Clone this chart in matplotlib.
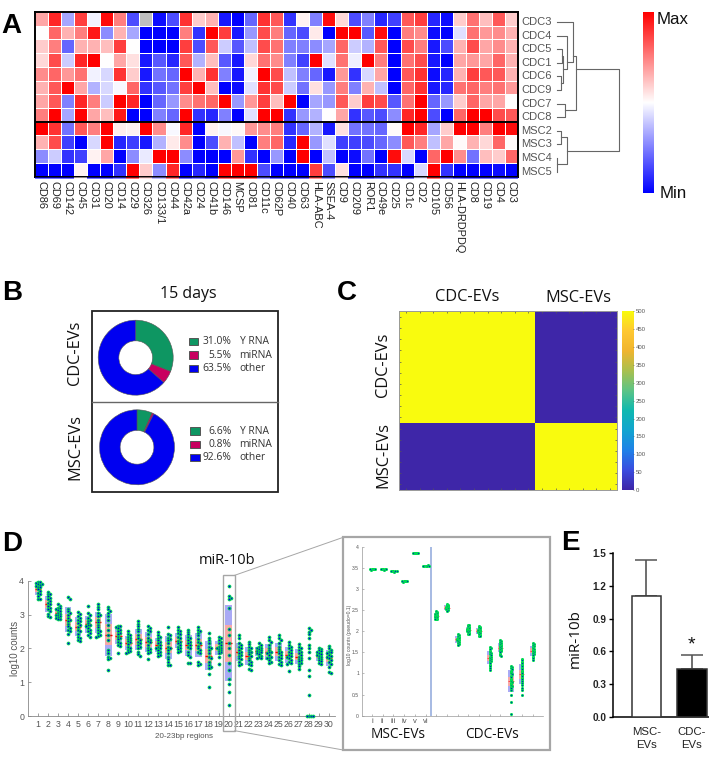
import numpy as np
import matplotlib
matplotlib.use("Agg")
import matplotlib.pyplot as plt
from matplotlib.colors import LinearSegmentedColormap
from matplotlib.patches import Rectangle

W, H = 709, 766
ARIAL = ["Liberation Sans", "DejaVu Sans"]
OPEN = ["Open Sans", "DejaVu Sans"]

# ---------- Panel A data ----------
markers = ["CD86","CD69","CD142","CD45","CD31","CD20","CD14","CD29","CD326","CD133/1","CD44","CD42a","CD24",
           "CD41b","CD146","MCSP","CD81","CD11c","CD62P","CD40","CD63","HLA-ABC","SSEA-4","CD9","CD209","ROR1",
           "CD49e","CD25","CD1c","CD2","CD105","CD56","HLA-DRDPDQ","CD8","CD19","CD4","CD3"]
samples = ["CDC3","CDC4","CDC5","CDC1","CDC6","CDC9","CDC7","CDC8","MSC2","MSC3","MSC4","MSC5"]
nan = float("nan")
heat = [
 [.35,.85,-.35,.75,-.05,.95,.5,-.7,nan,-.95,-.7,.8,.2,.3,-.9,-1,-.6,.8,.65,-.8,.05,-.5,.95,.15,-.7,-.5,-.85,-.75,.65,.75,-.85,-.95,.2,.55,.25,.65,.2],
 [0,.6,.3,.5,.9,-.45,.3,-.35,-1,-1,-1,.5,-.8,1,.75,-.9,-.4,.7,.5,-.6,-.7,.08,-1,1,1,-.65,.95,-1,.5,.45,-.95,-1,-.12,.55,.4,.45,.3],
 [.2,.5,-.6,.3,.3,.25,.75,0,-1,-1,-1,.75,-.7,.65,-.2,-.65,-.25,.7,.55,-.5,-.5,-.45,-.35,.6,-.2,-.3,.65,-1,.7,.5,-.9,-.7,.3,.7,.35,.45,.3],
 [.15,.7,-.2,.85,1,0,.35,.12,-.9,-.65,-.85,.65,-.3,.25,-.65,-.9,.15,.55,.45,-.5,-.75,1,-.12,.55,-.07,1,.5,-1,.55,.7,-.9,-1,.35,.4,.35,.6,.3],
 [.45,.6,.4,.55,-.05,-.15,.8,.2,-.9,-.55,-.6,1,.3,.8,-.5,-.9,-.05,1,.7,-.25,-.5,-.6,-.9,.4,-.8,-.15,.35,-1,.65,.8,-.95,-.85,.3,.75,.65,.65,.3],
 [.3,.65,1,.35,-.3,-.15,-.03,.6,-.8,-.65,-.55,.75,1,.25,-1,-.95,-.12,.8,.7,-.2,-.55,.12,-.4,.5,-.5,.3,-.25,-1,.6,.8,-.9,-.85,.55,.6,.5,.55,.4],
 [.35,.65,-.5,.85,.5,-.2,1,.85,-1,-.6,-.4,.45,.55,.6,1,-.4,.4,.75,.25,1,-1,-.35,-.4,.65,.2,.75,.7,-.65,.55,1,-.6,-.4,.2,.6,.35,.35,0],
 [.5,1,-.35,1,.35,.25,.9,-1,-1,-.5,-.6,1,-.8,-.85,-.5,-1,-.12,1,1,-.8,-.4,-.3,0,.35,-.8,-.65,-.7,-.45,.85,1,-.7,-1,.6,1,1,.7,.65],
 [1,.8,-.55,.65,.5,1,.07,.05,1,.45,-.03,.85,-1,.05,-.03,.03,.4,.45,.5,-.8,-.6,-.3,-.9,.12,-.55,-.55,-.6,.02,1,.85,-.35,.2,1,1,.5,1,.95],
 [.3,.7,-.75,-1,-.15,1,-.85,-.75,-.9,-.3,.08,.45,-1,-.7,.3,-.25,-1,.5,.6,-.85,1,-.4,-.12,-.75,-.75,-.7,-.6,-.45,.65,.5,-.25,.35,.02,.3,.15,.6,.02],
 [-.45,-.2,-.8,-.75,.05,.35,-1,-.45,-.08,1,1,-.45,-1,-1,-1,.4,-.8,-1,-.4,-1,1,-1,-.25,-1,-.95,-.55,-1,.95,-.15,-1,.6,1,.45,-.55,.25,.2,.6],
 [-1,-1,-1,.05,-1,-1,-.8,1,.2,-.45,.85,-1,-.85,-1,1,1,1,-.7,-1,-1,-1,.75,-.7,.12,-1,-1,-.8,-.8,-1,-.15,1,-.8,-1,-1,-1,-.95,-1],
]
# dendrogram merges: node a, node b, height, row position of the stem.
merges = [(2,3,.08,2.5),(4,5,.07,4.5),(12,13,.096,3.47),(1,14,.17,2.96),(0,15,.255,2.5),(6,7,.133,6.5),(16,17,.31,3.47),
          (8,9,.07,8.47),(10,11,.01,10.45),(19,20,.16,9.5),(18,21,1.0,6.0)]

# ---------- Panel B data ----------
rna_types = ["Y RNA", "miRNA", "other"]
cdc_rna = [31.0, 5.5, 63.5]
msc_rna = [6.6, 0.8, 92.6]
rna_colors = ["#0E9662", "#C8005F", "#0000F0"]

# ---------- Panel C data ----------
groups = [0]*10 + [1]*6
consensus = [[500 if a == b else 0 for b in groups] for a in groups]
parula = ["#3E26A8","#3A4DE0","#1F82E8","#12A5D0","#10B9B0","#5CC486","#A9C04F","#F0B52F","#FFC832","#F9FB0E"]
cbar_ticks = [0,50,100,150,200,250,300,350,400,450,500]

# ---------- Panel D data ----------
regions = {
 1:[3.97,3.95,3.93,3.9,3.9,3.88,3.85,3.82,3.8,3.75,3.7,3.65,3.6,3.55,3.47,3.45],
 2:[3.68,3.62,3.6,3.55,3.5,3.45,3.4,3.35,3.3,3.25,3.2,3.15,3.1,3.02,2.95,2.93],
 3:[3.3,3.25,3.2,3.18,3.15,3.12,3.1,3.05,3.02,3.0,2.98,2.95,2.92,2.9,2.88,2.86],
 4:[3.52,3.47,3.17,3.1,3.05,3.0,2.9,2.85,2.8,2.72,2.65,2.6,2.55,2.5,2.42,2.15],
 5:[3.07,3.02,2.95,2.9,2.85,2.82,2.75,2.7,2.62,2.55,2.5,2.42,2.35,2.3,2.25,2.22],
 6:[3.25,3.05,3.0,2.9,2.85,2.82,2.75,2.7,2.68,2.65,2.6,2.55,2.5,2.45,2.4,2.35],
 7:[3.3,3.22,3.15,3.05,3.0,2.95,2.85,2.78,2.7,2.62,2.55,2.5,2.45,2.4,2.37,2.35],
 8:[3.22,3.15,3.1,3.05,2.95,2.85,2.7,2.55,2.4,2.25,1.95,1.85,1.75,1.72,1.68,1.35],
 9:[2.67,2.65,2.62,2.6,2.55,2.5,2.45,2.42,2.35,2.3,2.28,2.2,2.15,2.1,2.08,1.85],
 10:[2.5,2.42,2.38,2.35,2.32,2.28,2.25,2.22,2.18,2.12,2.05,2.0,1.95,1.92,1.88,1.87],
 11:[2.8,2.72,2.65,2.58,2.5,2.4,2.3,2.25,2.2,2.15,2.1,2.05,2.0,1.9,1.82,1.78],
 12:[2.65,2.6,2.55,2.5,2.42,2.3,2.25,2.22,2.18,2.1,2.02,1.98,1.95,1.9,1.85,1.68],
 13:[2.47,2.4,2.35,2.32,2.25,2.2,2.15,2.1,2.05,2.02,2.0,1.95,1.9,1.85,1.8,1.78],
 14:[2.62,2.42,2.38,2.32,2.28,2.25,2.15,2.05,2.0,1.95,1.85,1.75,1.68,1.6,1.52,1.5],
 15:[2.63,2.55,2.5,2.45,2.42,2.35,2.3,2.22,2.18,2.15,2.1,2.05,2.0,1.98,1.93,1.9],
 16:[2.55,2.48,2.42,2.35,2.3,2.25,2.2,2.15,2.1,2.05,2.0,1.9,1.8,1.75,1.58,1.56],
 17:[2.62,2.55,2.5,2.45,2.38,2.28,2.2,2.15,2.08,2.0,1.95,1.88,1.85,1.6,1.55,1.52],
 18:[2.45,2.32,2.25,2.15,2.05,2.0,1.95,1.85,1.75,1.7,1.6,1.5,1.45,1.42,1.25,.85],
 19:[2.35,2.3,2.25,2.2,2.15,2.1,2.05,2.02,2.0,1.98,1.95,1.92,1.88,1.85,1.75,1.55],
 20:[3.85,3.55,3.5,3.45,3.2,2.58,2.4,2.15,2.0,1.8,1.58,1.35,1.1,.95,.7,.32],
 21:[2.4,2.3,2.15,2.1,2.05,2.0,1.95,1.9,1.85,1.8,1.78,1.72,1.68,1.6,1.55,1.5],
 22:[2.2,2.12,2.05,2.0,1.95,1.9,1.88,1.82,1.78,1.72,1.65,1.6,1.55,1.5,1.38,1.35],
 23:[2.15,2.1,2.05,2.02,2.0,1.97,1.95,1.92,1.9,1.88,1.85,1.82,1.78,1.75,1.72,1.7],
 24:[2.33,2.25,2.2,2.1,2.02,1.95,1.9,1.88,1.85,1.8,1.75,1.72,1.7,1.65,1.6,1.58],
 25:[2.38,2.3,2.25,2.15,2.05,1.98,1.92,1.88,1.85,1.8,1.75,1.7,1.65,1.6,1.55,1.52],
 26:[2.18,2.1,2.05,2.0,1.95,1.9,1.85,1.8,1.78,1.75,1.7,1.65,1.6,1.58,1.55,1.32],
 27:[2.12,2.05,2.0,1.95,1.9,1.85,1.8,1.75,1.72,1.68,1.65,1.62,1.58,1.55,1.48,1.38],
 28:[2.6,2.55,2.48,2.42,2.3,2.1,2.0,1.88,1.72,1.35,1.18,.62,0,0,0,0],
 29:[2.02,1.98,1.95,1.92,1.9,1.85,1.82,1.8,1.78,1.75,1.72,1.68,1.65,1.62,1.58,1.55],
 30:[2.07,2.0,1.95,1.9,1.88,1.85,1.8,1.78,1.75,1.7,1.65,1.6,1.55,1.45,1.3,1.28],
}
no_box_regions = [28]

# ---------- Panel D inset data ----------
inset_labels = ["i","ii","iii","iv","v","vi"] + [""]*10
inset = [
 [3.47,3.47,3.46,3.48,3.47,3.47],
 [3.47,3.46,3.47,3.48,3.47,3.47],
 [3.42,3.41,3.42,3.43,3.42,3.42],
 [3.18,3.18,3.17,3.19,3.18,3.18],
 [3.85,3.85,3.84,3.86,3.85,3.85],
 [3.55,3.55,3.54,3.56,3.55,3.55],
 [2.47,2.45,2.44,2.42,2.41,2.4,2.39,2.38,2.37,2.36,2.35,2.34,2.33,2.32,2.3,2.29,2.28],
 [2.65,2.63,2.62,2.6,2.59,2.58,2.57,2.56,2.55,2.54,2.53,2.52,2.5,2.49,2.47],
 [1.93,1.91,1.89,1.87,1.85,1.83,1.82,1.81,1.8,1.79,1.78,1.76,1.74,1.72,1.7,1.68],
 [2.15,2.14,2.12,2.1,2.08,2.07,2.06,2.05,2.04,2.03,2.02,2.01,2.0,1.98,1.96,1.94,1.93],
 [2.13,2.11,2.1,2.08,2.06,2.04,2.03,2.02,2.01,2.0,1.99,1.97,1.95,1.93,1.91,1.89,1.88],
 [1.62,1.6,1.57,1.54,1.5,1.48,1.45,1.43,1.4,1.38,1.36,1.34,1.32,1.3,1.27,1.24,1.2,1.17,1.14,1.08],
 [1.78,1.76,1.74,1.72,1.7,1.68,1.66,1.64,1.62,1.6,1.58,1.56,1.54,1.52,1.5,1.47,1.44,1.42],
 [1.17,1.15,1.12,1.1,1.06,1.03,1.0,.98,.95,.92,.88,.85,.82,.8,.78,.75,.72,.7,.68,.65,.62,.5,.33,.05],
 [1.35,1.32,1.28,1.25,1.2,1.17,1.13,1.1,1.06,1.03,1.0,.97,.94,.9,.86,.83,.78,.72,.65,.6,.5],
 [1.72,1.7,1.67,1.65,1.63,1.6,1.58,1.56,1.54,1.52,1.5,1.48,1.46,1.43,1.4,1.37,1.33],
]

# ---------- Panel E data ----------
e_labels = ["MSC-\nEVs", "CDC-\nEVs"]
e_means = [1.105, 0.435]
e_errs = [0.335, 0.135]
e_colors = ["white", "black"]
e_ticks = [0.0, 0.3, 0.6, 0.9, 1.2, 1.5]


fig = plt.figure(figsize=(W/100, H/100), dpi=100, facecolor="white")

def px_axes(x0, y0, x1, y1, **kw):
    return fig.add_axes([x0/W, 1-y1/H, (x1-x0)/W, (y1-y0)/H], **kw)

over = px_axes(0, 0, W, H)
over.set_xlim(0, W); over.set_ylim(H, 0); over.axis("off"); over.set_zorder(10); over.patch.set_alpha(0)

def swarm(vals, ppu_x, ppu_y, dia):
    placed = []
    xs = []
    for v in vals:
        k = 0
        while True:
            step = (k+1)//2 * (1 if k % 2 else -1) * dia*0.5
            if all((step-px)**2 + ((v-pv)*ppu_y)**2 >= dia**2 for px, pv in placed):
                break
            k += 1
        placed.append((step, v))
        xs.append(step/ppu_x)
    return np.array(xs)

# ---------- A ----------
ax = px_axes(35, 12, 518, 176.5)
cm = LinearSegmentedColormap.from_list("bwr2", ["#0000FF", "#FFFFFF", "#FF0000"])
cm.set_bad("#BFBFBF")
ax.pcolormesh(np.ma.masked_invalid(np.array(heat)), cmap=cm, vmin=-1, vmax=1, edgecolors="white", linewidth=0.7)
ax.set_ylim(12, 0); ax.set_xlim(0, len(markers))
ax.set_xticks(np.arange(len(markers))+.5)
ax.set_xticklabels(markers, rotation=-90, fontsize=7.9, family=ARIAL, color="#222222", ha="center", va="top")
ax.tick_params(axis="x", length=0, pad=3.5)
ax.set_yticks([])
for s in ax.spines.values():
    s.set_linewidth(1.4); s.set_color("black")
ax.axhline(8, color="black", lw=1.4)
st = px_axes(35, 177.2, 518, 179.3)
st.pcolormesh(np.array(heat)[-1:], cmap=cm, vmin=-1, vmax=1, alpha=.55)
st.axis("off")

den = px_axes(556.7, 22, 619.3, 171.7)
den.set_xlim(0, 1); den.set_ylim(11, 0); den.axis("off")
pos = {i: (i, 0.0) for i in range(12)}
dcol = "#666666"
for n, (a, b, h, stem) in enumerate(merges):
    ya, ha = pos[a]; yb, hb = pos[b]
    den.plot([ha, h, h, hb], [ya, ya, yb, yb], color=dcol, lw=0.8, clip_on=False)
    pos[12+n] = (stem, h)
for i, s in enumerate(samples):
    over.text(521, 22+i*(171.7-22)/11, s, fontsize=8, family=ARIAL, color="#555555", va="center", ha="left")

cb = px_axes(642.7, 12, 653.3, 193)
cb.imshow(np.linspace(1, -1, 256)[:, None], cmap=cm, aspect="auto", vmin=-1, vmax=1)
cb.set_xticks([]); cb.set_yticks([])
for s in cb.spines.values():
    s.set_visible(False)
over.text(657, 20, "Max", fontsize=12.2, family=ARIAL, va="center", color="#111111")
over.text(660, 193, "Min", fontsize=12.2, family=ARIAL, va="center", color="#111111")

# ---------- B ----------
over.add_patch(Rectangle((92, 311), 186, 180.7, fc="none", ec="#222222", lw=1.3))
over.plot([92, 278], [401.7, 401.7], color="#666666", lw=1)
over.text(188, 294, "15 days", fontsize=11.5, family=OPEN, ha="center", va="center", color="#111111")

def donut(cx, cy, vals, lx, ly):
    a = px_axes(cx-37.5, cy-37.5, cx+37.5, cy+37.5)
    a.pie(vals, colors=rna_colors, startangle=90, counterclock=False, radius=1,
          wedgeprops=dict(width=0.55, edgecolor="#555555", linewidth=0.4))
    a.set_xlim(-1, 1); a.set_ylim(-1, 1)
    for i, (v, n) in enumerate(zip(vals, rna_types)):
        y = ly + i*13.4
        over.add_patch(Rectangle((lx, y-3.6), 9.5, 7.2, fc=rna_colors[i], ec="#555555", lw=0.7))
        over.text(231.5, y, f"{v:.1f}%", fontsize=7.4, family=OPEN, ha="right", va="center", color="#333333")
        over.text(239.5, y, n, fontsize=7.4, family=OPEN, ha="left", va="center", color="#333333")

donut(135.7, 357.7, cdc_rna, 188.5, 341.7)
donut(137, 447.3, msc_rna, 190.2, 431)
over.text(75, 353, "CDC-EVs", fontsize=11.8, family=OPEN, rotation=90, ha="center", va="center", color="#111111")
over.text(75, 446.7, "MSC-EVs", fontsize=11.8, family=OPEN, rotation=90, ha="center", va="center", color="#111111")

# ---------- C ----------
pc = LinearSegmentedColormap.from_list("par", parula)
ax = px_axes(399.3, 311.3, 616.7, 490)
ax.imshow(np.array(consensus), cmap=pc, vmin=0, vmax=500, aspect="auto", interpolation="nearest")
ax.set_xticks(range(16)); ax.set_yticks(range(16))
ax.set_xticklabels([]); ax.set_yticklabels([])
ax.tick_params(which="both", direction="in", length=1.5, width=0.5, color="#555555", top=True, right=True)
for s in ax.spines.values():
    s.set_color("#999999"); s.set_linewidth(0.7)
cb = px_axes(622.3, 311.3, 634, 490)
cb.imshow(np.linspace(500, 0, 256)[:, None], cmap=pc, vmin=0, vmax=500, aspect="auto", extent=[0, 1, 0, 500])
cb.set_xticks([]); cb.yaxis.tick_right(); cb.set_yticks(cbar_ticks)
cb.set_yticklabels([str(t) for t in cbar_ticks], fontsize=4.3, family=ARIAL, color="#555555")
cb.tick_params(axis="y", length=1, width=0.4, pad=1, color="#555555", direction="in")
for s in cb.spines.values():
    s.set_visible(False)
over.text(467, 297, "CDC-EVs", fontsize=11.8, family=OPEN, ha="center", va="center", color="#111111")
over.text(578, 298, "MSC-EVs", fontsize=11.8, family=OPEN, ha="center", va="center", color="#111111")
over.text(383, 365, "CDC-EVs", fontsize=11.8, family=OPEN, rotation=90, ha="center", va="center", color="#111111")
over.text(383, 455, "MSC-EVs", fontsize=11.8, family=OPEN, rotation=90, ha="center", va="center", color="#111111")

# ---------- D ----------
def notbox(a, x, vals, w, ppu_x, ppu_y, dia, ms, lw, edge, box=True):
    vals = np.array(vals, float)
    if box:
        m, sd = vals.mean(), vals.std(ddof=1)
        ci = 1.96*sd/np.sqrt(len(vals))
        a.add_patch(Rectangle((x-w/2, m-sd), w, 2*sd, fc="#A9A9F5", ec="none", zorder=1))
        a.add_patch(Rectangle((x-w/2, m-ci), w, 2*ci, fc="#F7A8A8", ec="none", zorder=2))
        a.plot([x-w/2, x+w/2], [m, m], color="#FF0000", lw=lw, zorder=3, solid_capstyle="butt")
    a.scatter(x+swarm(vals, ppu_x, ppu_y, dia), vals, s=ms, fc="#0000DD", ec="#00E050", lw=edge, zorder=4, clip_on=False)

ppx = 10.03; ppy = 33.83
ax = px_axes(28.3, 580.7, 335, 716)
ax.set_xlim(1+(28.3-38)/ppx, 1+(335-38)/ppx); ax.set_ylim(0, 4)
for r, vals in regions.items():
    notbox(ax, r, vals, 0.66, ppx, ppy, 2.0, 4.2, 1.0, 0.65, box=r not in no_box_regions)
ax.set_xticks(list(regions)); ax.set_yticks([0, 1, 2, 3, 4])
ax.tick_params(axis="both", direction="in", length=2.5, width=0.5, color="#777777", labelcolor="#555555", labelsize=6.3, pad=3)
for t in ax.get_xticklabels()+ax.get_yticklabels():
    t.set_family(ARIAL)
ax.spines[["top", "right"]].set_visible(False)
ax.spines[["left", "bottom"]].set_color("#888888"); ax.spines[["left", "bottom"]].set_linewidth(0.6)
ax.patch.set_alpha(0)
over.text(15, 648, "log10 counts", fontsize=7, family=ARIAL, color="#555555", rotation=90, ha="center", va="center")
over.text(184, 737, "20-23bp regions", fontsize=5.8, family=ARIAL, color="#555555", ha="center", va="center")
over.text(227, 560.7, "miR-10b", fontsize=10.5, family=OPEN, ha="center", va="center", color="#111111")
gr = "#A6A6A6"
over.add_patch(Rectangle((223.3, 575.3), 11.4, 155.4, fc="none", ec=gr, lw=1))
over.plot([234.7, 343.3], [575.3, 537.3], color=gr, lw=0.7)
over.plot([234.7, 343.3], [730.7, 750], color=gr, lw=0.7)
over.add_patch(Rectangle((343.3, 537.3), 206.7, 212.7, fc="none", ec=gr, lw=1.6))

ppx2 = 10.7; ppy2 = (715.7-546.7)/4
ax = px_axes(361.7, 546.7, 543, 715.7)
ax.set_xlim(1+(361.7-372)/ppx2, 1+(543-372)/ppx2); ax.set_ylim(0, 4)
for i, vals in enumerate(inset):
    notbox(ax, i+1, vals, 0.5, ppx2, ppy2, 1.05, 2.2, 0.4, 0.7, box=True)
ax.set_xticks(range(1, 17)); ax.set_xticklabels(inset_labels, fontsize=5.5, family=ARIAL, color="#555555")
ax.set_yticks([0, .5, 1, 1.5, 2, 2.5, 3, 3.5, 4])
ax.set_yticklabels(["0", "0.5", "1", "1.5", "2", "2.5", "3", "3.5", "4"], fontsize=3.6, family=ARIAL, color="#555555")
ax.tick_params(axis="both", direction="in", length=1.5, width=0.4, color="#888888", pad=2)
ax.axvline(1+(430.7-372)/ppx2, color="#9FB4E0", lw=1.3, zorder=0)
ax.spines[["top", "right"]].set_visible(False)
ax.spines[["left", "bottom"]].set_color("#999999"); ax.spines[["left", "bottom"]].set_linewidth(0.5)
ax.patch.set_alpha(0)
over.text(350, 635, "log10 counts (pseudo=0.1)", fontsize=3.6, family=ARIAL, color="#555555", rotation=90, ha="center", va="center")
over.text(398, 735, "MSC-EVs", fontsize=9.8, family=OPEN, ha="center", va="center", color="#111111")
over.text(492, 735, "CDC-EVs", fontsize=9.8, family=OPEN, ha="center", va="center", color="#111111")

# ---------- E ----------
ppe = (716.7-553.3)/1.5
ax = px_axes(613.3, 553.3, 709, 716.7)
ax.set_xlim(0, 95.7); ax.set_ylim(0, 1.5)
xc = [646.2-613.3, 691.7-613.3]
ax.bar(xc, e_means, width=[29, 30], color=e_colors, edgecolor="#333333", lw=1.1, zorder=3)
ax.errorbar(xc, e_means, yerr=[[0, 0], e_errs], fmt="none", ecolor="#555555", elinewidth=1.2, capsize=8, capthick=1.1, zorder=2)
ax.set_xticks(xc); ax.set_xticklabels(e_labels, fontsize=8.2, family=ARIAL, color="#222222", linespacing=1.35)
ax.set_yticks(e_ticks); ax.set_yticklabels([f"{t:.1f}" for t in e_ticks], fontsize=7.2, family=ARIAL, weight="bold", color="#222222")
ax.tick_params(axis="y", length=3, width=1, pad=2)
ax.tick_params(axis="x", length=0, pad=7.5)
ax.spines[["top", "right"]].set_visible(False)
ax.spines[["left", "bottom"]].set_linewidth(1.1)
ax.patch.set_alpha(0)
over.text(691, 645, "*", fontsize=14, family=ARIAL, ha="center", va="center", color="#111111")
over.text(575, 639, "miR-10b", fontsize=11, family=OPEN, rotation=90, ha="center", va="center", color="#111111")

# panel letters
for s, x, y in [("A", 1, 33), ("B", 2, 300), ("C", 337, 300), ("D", 2, 551), ("E", 561.5, 550)]:
    over.text(x, y, s, fontsize=20, family=ARIAL, weight="bold", ha="left", va="baseline", color="black")

fig.savefig("out.png", dpi=100)
